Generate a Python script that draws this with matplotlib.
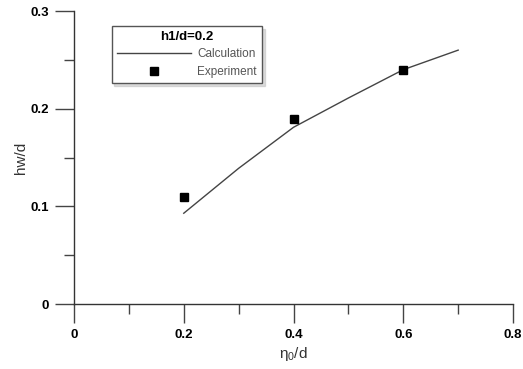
import matplotlib
matplotlib.use('Agg')
import matplotlib.pyplot as plt
from matplotlib.ticker import MultipleLocator

plt.rcParams['font.family'] = 'Liberation Sans'
plt.rcParams['mathtext.fontset'] = 'custom'
plt.rcParams['mathtext.rm'] = 'Liberation Sans'
plt.rcParams['mathtext.it'] = 'Liberation Sans'

# calculation curve
calc_x = [0.2, 0.3, 0.4, 0.5, 0.6, 0.7]
calc_y = [0.093, 0.139, 0.181, 0.211, 0.240, 0.260]

# experiment points
exp_x = [0.2, 0.4, 0.6]
exp_y = [0.110, 0.189, 0.240]

x_ticks = [0, 0.2, 0.4, 0.6, 0.8]
x_labels = ['0', '0.2', '0.4', '0.6', '0.8']
y_ticks = [0, 0.1, 0.2, 0.3]
y_labels = ['0', '0.1', '0.2', '0.3']

fig = plt.figure(figsize=(5.23, 3.69), dpi=100)
ax = fig.add_axes([0.1415, 0.176, 0.8395, 0.794])

ax.plot(calc_x, calc_y, color='#444444', lw=1.0, label='Calculation')
ax.plot(exp_x, exp_y, ls='none', marker='s', ms=6, color='black', label='Experiment')

ax.set_xlim(0, 0.8)
ax.set_ylim(0, 0.3)
ax.set_xticks(x_ticks)
ax.set_xticklabels(x_labels, fontweight='bold', fontsize=9.5)
ax.set_yticks(y_ticks)
ax.set_yticklabels(y_labels, fontweight='bold', fontsize=9.5)
ax.xaxis.set_minor_locator(MultipleLocator(0.1))
ax.yaxis.set_minor_locator(MultipleLocator(0.05))
ax.tick_params(which='major', direction='out', length=14, width=1, color='#444444', pad=4)
ax.tick_params(which='minor', direction='out', length=7, width=1, color='#444444')

for s in ['top', 'right']:
    ax.spines[s].set_visible(False)
for s in ['left', 'bottom']:
    ax.spines[s].set_color('#333333')
    ax.spines[s].set_linewidth(1)

ax.set_xlabel(r'$\mathregular{\eta_0}$/d', fontsize=11, color='#333333', labelpad=3)
ax.set_ylabel('hw/d', fontsize=11, color='#333333', labelpad=2)

leg = ax.legend(loc='upper left', bbox_to_anchor=(0.072, 0.97), title='h1/d=0.2',
                fontsize=8.5, title_fontproperties={'weight': 'bold', 'size': 9.5},
                handlelength=6.3, handletextpad=0.5, labelspacing=0.45,
                borderpad=0.45, fancybox=False, shadow={'ox': 2, 'oy': -2, 'color': '#bbbbbb'},
                framealpha=1, edgecolor='#555555', markerfirst=True)
for t in leg.get_texts():
    t.set_color('#555555')
leg.get_frame().set_linewidth(1)

plt.savefig('out.png', dpi=100)
